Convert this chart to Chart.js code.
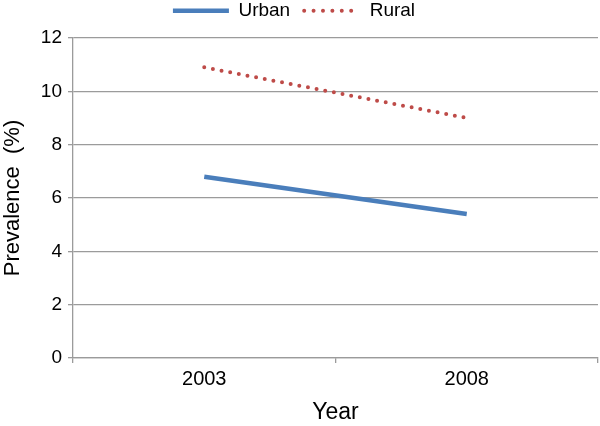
<!DOCTYPE html>
<html>
<head>
<meta charset="utf-8">
<script src="https://cdn.jsdelivr.net/npm/chart.js@4/dist/chart.umd.min.js"></script>
<style>
  html, body { margin: 0; padding: 0; background: #ffffff; }
  #wrap { width: 600px; height: 426px; }
</style>
</head>
<body>
<div id="wrap"><canvas id="c" width="600" height="426"></canvas></div>
<script>
const categories = ['2003', '2008'];
const urbanValues = [6.8, 5.4];
const ruralValues = [10.9, 9.0];
const seriesNames = ['Urban', 'Rural'];
const yTicks = [0, 2, 4, 6, 8, 10, 12];

const gridColor = '#9b9b9b';
const FONT = '"Liberation Sans", Arial, Helvetica, sans-serif';

const layoutTweak = {
  id: 'layoutTweak',
  beforeInit(chart) {
    const lg = chart.legend;
    if (lg) {
      const orig = lg.fit;
      lg.fit = function () { orig.call(this); this.height = 38; };
    }
  },
  afterLayout(chart) {
    const lg = chart.legend;
    if (lg) {
      lg.top -= 12.8;
      lg.bottom -= 12.8;
      lg.left -= 5;
      lg.right -= 5;
    }
  }
};

new Chart(document.getElementById('c'), {
  type: 'line',
  data: {
    labels: categories,
    datasets: [
      {
        label: seriesNames[0],
        data: urbanValues,
        borderColor: '#4a7ebb',
        backgroundColor: '#4a7ebb',
        borderWidth: 4.5,
        pointRadius: 0,
        pointHoverRadius: 0,
        pointStyle: 'line',
        tension: 0,
        fill: false
      },
      {
        label: seriesNames[1],
        data: ruralValues,
        borderColor: '#be4b48',
        backgroundColor: '#be4b48',
        borderWidth: 4,
        borderDash: [0, 8.8],
        borderCapStyle: 'round',
        pointRadius: 0,
        pointHoverRadius: 0,
        pointStyle: 'line',
        tension: 0,
        fill: false
      }
    ]
  },
  options: {
    responsive: false,
    devicePixelRatio: 1,
    animation: false,
    layout: { padding: { left: 0, right: 2, top: 0, bottom: 0 } },
    plugins: {
      tooltip: { enabled: false },
      legend: {
        position: 'top',
        align: 'center',
        labels: {
          usePointStyle: true,
          pointStyleWidth: 56,
          padding: 14,
          color: '#000000',
          font: { family: FONT, size: 19 },
          generateLabels(chart) {
            const items = Chart.defaults.plugins.legend.labels.generateLabels(chart);
            items.forEach(it => {
              if (it.datasetIndex === 1) { it.lineDash = [0, 9.4]; it.lineCap = 'round'; }
              else { it.lineCap = 'butt'; }
            });
            return items;
          }
        }
      }
    },
    scales: {
      x: {
        type: 'category',
        offset: true,
        grid: {
          offset: true,
          drawOnChartArea: false,
          drawTicks: true,
          tickLength: 5,
          color: gridColor,
          lineWidth: 1.3
        },
        border: { display: true, color: gridColor, width: 1.3 },
        ticks: {
          color: '#000000',
          padding: 4,
          maxRotation: 0,
          font: { family: FONT, size: 20 }
        },
        title: {
          display: true,
          text: 'Year',
          color: '#000000',
          padding: { top: 0, bottom: 0 },
          font: { family: FONT, size: 23, lineHeight: 1.2 }
        },
        afterFit(scale) { scale.height = 68; }
      },
      y: {
        min: 0,
        max: 12,
        afterBuildTicks(scale) { scale.ticks = yTicks.map(v => ({ value: v })); },
        grid: {
          drawTicks: true,
          tickLength: 5,
          color: gridColor,
          lineWidth: 1.3
        },
        border: { display: true, color: gridColor, width: 1.3 },
        ticks: {
          color: '#000000',
          padding: 6,
          font: { family: FONT, size: 19 }
        },
        title: {
          display: true,
          text: 'Prevalence  (%)',
          color: '#000000',
          padding: { top: 0, bottom: 0 },
          font: { family: FONT, size: 22, lineHeight: 1.2 }
        },
        afterFit(scale) { scale.width = 73; }
      }
    }
  },
  plugins: [layoutTweak]
});
</script>
</body>
</html>
